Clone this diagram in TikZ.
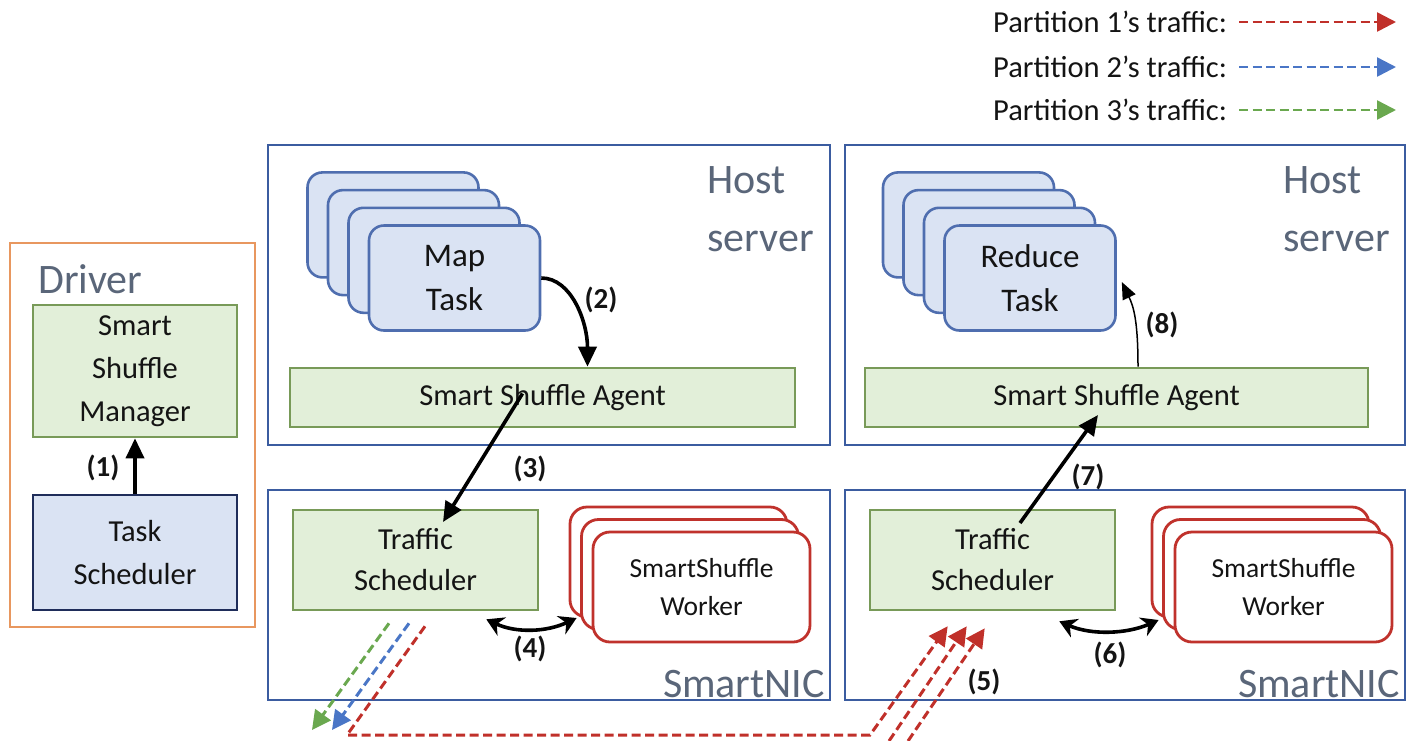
\documentclass[tikz,border=0pt]{standalone}
\usepackage{fontspec}
\setmainfont{Carlito}
\usetikzlibrary{arrows.meta}

\definecolor{inkblack}{HTML}{141414}
\definecolor{graytext}{HTML}{5A6679}
\definecolor{greenfill}{HTML}{E2EFD9}
\definecolor{greenline}{HTML}{789A58}
\definecolor{bluefill}{HTML}{DAE3F3}
\definecolor{taskline}{HTML}{4F6EAF}
\definecolor{navyline}{HTML}{1F2D5A}
\definecolor{hostblue}{HTML}{3B5CA0}
\definecolor{driverorange}{HTML}{E8975F}
\definecolor{workerred}{HTML}{C0322C}
\definecolor{trafred}{HTML}{C0302A}
\definecolor{trafblue}{HTML}{4A76C6}
\definecolor{trafgreen}{HTML}{6AA84F}

\tikzset{
  txt/.style={font=\fontsize{30.5}{43}\selectfont, align=center, text=inkblack, inner sep=0pt},
  frame/.style={draw=#1, line width=2.6pt, inner sep=0pt},
  biglabel/.style={font=\fontsize{42}{58}\selectfont, text=graytext, inner sep=0pt},
  numlabel/.style={font=\bfseries\fontsize{29}{35}\selectfont, text=inkblack, inner sep=0pt},
  greenbox/.style 2 args={txt, draw=greenline, fill=greenfill, line width=2.6pt, minimum width=#1, minimum height=#2},
  taskbox/.style={txt, font=\fontsize{33}{44}\selectfont, draw=taskline, fill=bluefill, line width=2.6pt, rounded corners=15pt, minimum width=171pt, minimum height=105pt},
  workerbox/.style={txt, font=\fontsize{27.5}{38}\selectfont, draw=workerred, fill=white, line width=2.8pt, rounded corners=17pt, minimum width=217pt, minimum height=110pt},
  arrowthick/.style={draw=black, line width=3.6pt, -{Triangle[width=18pt,length=20pt]}},
  arrowthin/.style={draw=black, line width=1.5pt, -{Triangle[width=14pt,length=17pt]}},
  arrowboth/.style={draw=black, line width=3.6pt, {Stealth[width=20pt,length=17pt]}-{Stealth[width=20pt,length=17pt]}},
  traffic/.style={draw=#1, dash pattern=on 9pt off 4.5pt, line width=3pt, -{Triangle[width=19pt,length=19pt]}}
}

\begin{document}
\begin{tikzpicture}[x=1pt,y=-1pt]
  \useasboundingbox (0,0) rectangle (1409,740);

  \node[frame=driverorange, minimum width=245pt, minimum height=384pt] (driver) at (132.5,435) {};
  \node[biglabel, anchor=base west] (drivertitle) at (38,293) {Driver};
  \node[greenbox={204pt}{132pt}] (manager) at (135,371) {Smart\\Shuffle\\Manager};
  \node[txt, draw=navyline, fill=bluefill, line width=2.6pt, minimum width=204pt, minimum height=115pt] (tasksched) at (135,552.5) {Task\\Scheduler};
  \draw[arrowthick] (tasksched) -- (manager);
  \node[numlabel] (n1) at (103,468) {(1)};

  \node[frame=hostblue, minimum width=562pt, minimum height=300pt] (hostL) at (549,295) {};
  \node[biglabel, align=left, anchor=north west] (hostLtitle) at (707,166) {Host\\server};
  \foreach \i in {3,2,1}
    \node[taskbox, xshift={-20.5pt*\i}, yshift={17.7pt*\i}] (map\i) at (454.5,278) {};
  \node[taskbox] (map) at (454.5,278) {Map\\Task};
  \node[greenbox={505pt}{59pt}] (agentL) at (542.5,397.5) {Smart Shuffle Agent};

  \node[frame=hostblue, minimum width=560pt, minimum height=300pt] (hostR) at (1125,295) {};
  \node[biglabel, align=left, anchor=north west] (hostRtitle) at (1283,166) {Host\\server};
  \foreach \i in {3,2,1}
    \node[taskbox, xshift={-20.5pt*\i}, yshift={17.7pt*\i}] (reduce\i) at (1030,278) {};
  \node[taskbox] (reduce) at (1030,278) {Reduce\\Task};
  \node[greenbox={503pt}{59pt}] (agentR) at (1116.5,397.5) {Smart Shuffle Agent};

  \node[frame=hostblue, minimum width=562pt, minimum height=210pt] (nicL) at (549,595) {};
  \node[biglabel, anchor=base east] (nicLtitle) at (825,697) {SmartNIC};
  \node[greenbox={245pt}{100pt}, font=\fontsize{30.5}{41}\selectfont] (tsL) at (415.5,560) {Traffic\\Scheduler};
  \foreach \i in {2,1}
    \node[workerbox, xshift={-11.5pt*\i}, yshift={12.5pt*\i}] (workerL\i) at (701.5,587) {};
  \node[workerbox] (workerL) at (701.5,587) {SmartShuffle\\Worker};

  \node[frame=hostblue, minimum width=560pt, minimum height=210pt] (nicR) at (1125,595) {};
  \node[biglabel, anchor=base east] (nicRtitle) at (1400,697) {SmartNIC};
  \node[greenbox={245pt}{100pt}, font=\fontsize{30.5}{41}\selectfont] (tsR) at (992.5,560) {Traffic\\Scheduler};
  \foreach \i in {2,1}
    \node[workerbox, xshift={-11.5pt*\i}, yshift={12.5pt*\i}] (workerR\i) at (1283.5,587) {};
  \node[workerbox] (workerR) at (1283.5,587) {SmartShuffle\\Worker};

  \draw[arrowthick] (map.east) .. controls +(30,0) and +(0,-45) .. ([xshift=45pt]agentL.north);
  \node[numlabel] (n2) at (601,300) {(2)};
  \draw[arrowthick] ([shift={(-20,-4)}]agentL.center) -- ([shift={(27.5,-38)}]tsL.center);
  \node[numlabel] (n3) at (530,469) {(3)};
  \draw[arrowboth] ([shift={(-53,8)}]tsL.south east) .. controls +(30,14) and +(-30,14) .. ([shift={(-15,31)}]workerL.west);
  \node[numlabel] (n4) at (530,649) {(4)};
  \draw[arrowboth] ([shift={(-57,10)}]tsR.south east) .. controls +(32,14) and +(-32,14) .. ([shift={(-15,33)}]workerR.west);
  \node[numlabel] (n6) at (1110,655) {(6)};
  \draw[arrowthick] ([shift={(27.5,-37)}]tsR.center) -- ([shift={(-18.5,17.5)}]agentR.center);
  \node[numlabel] (n7) at (1088,477) {(7)};
  \draw[arrowthin] ([xshift=21.5pt]agentR.north) .. controls +(0,-45) and +(12,25) .. ([shift={(5,4)}]reduce.east);
  \node[numlabel] (n8) at (1162,325) {(8)};

  \coordinate (p3end) at (312,730);
  \coordinate (p2end) at (332,730);
  \coordinate (bendA) at (347,735);
  \coordinate (bendB) at (870,735);
  \coordinate (p1startB) at (889,741);
  \coordinate (p1startC) at (908,741);
  \draw[traffic=trafgreen] ([shift={(-26.5,12)}]tsL.south) -- (p3end);
  \draw[traffic=trafblue] ([shift={(-6.5,12)}]tsL.south) -- (p2end);
  \draw[traffic=trafred] ([shift={(9.5,15)}]tsL.south) -- (bendA) -- (bendB) -- ([shift={(79,15)}]tsR.south west);
  \draw[traffic=trafred] (p1startB) -- ([shift={(98,15)}]tsR.south west);
  \draw[traffic=trafred] (p1startC) -- ([shift={(116,17)}]tsR.south west);
  \node[numlabel] (n5) at (984,682) {(5)};

  \node[txt, anchor=west] (leg1) at (993,22) {Partition 1’s traffic:};
  \node[txt, anchor=west] (leg2) at (993,67) {Partition 2’s traffic:};
  \node[txt, anchor=west] (leg3) at (993,110) {Partition 3’s traffic:};
  \coordinate (leg1end) at (1396,22);
  \coordinate (leg2end) at (1396,67);
  \coordinate (leg3end) at (1396,110);
  \draw[traffic=trafred, line width=2.5pt] ([xshift=12pt]leg1.east) -- (leg1end);
  \draw[traffic=trafblue, line width=2.5pt] ([xshift=12pt]leg2.east) -- (leg2end);
  \draw[traffic=trafgreen, line width=2.5pt] ([xshift=12pt]leg3.east) -- (leg3end);
\end{tikzpicture}
\end{document}
